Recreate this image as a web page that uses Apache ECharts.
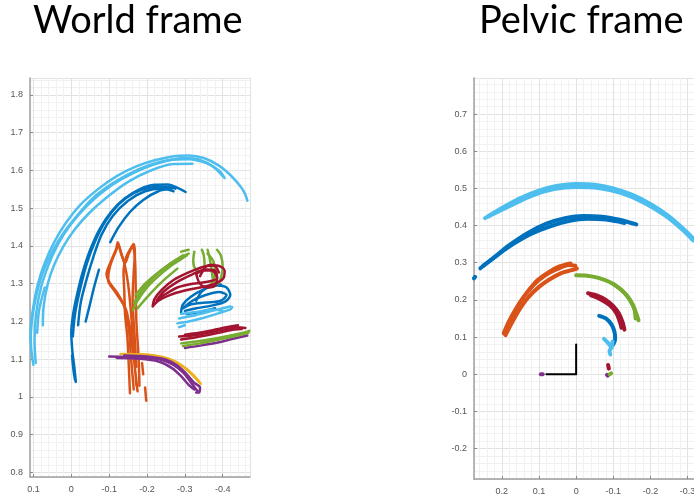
<!DOCTYPE html>
<html>
<head>
<meta charset="utf-8">
<script src="https://cdn.jsdelivr.net/npm/echarts@6/dist/echarts.min.js"></script>
<style>
  html, body { margin: 0; padding: 0; background: #fff; }
  #chart { width: 694px; height: 502px; }
</style>
</head>
<body>
<div id="chart"></div>
<script>
  // matlab default colours
  var cBlue = '#0072BD', cOrange = '#D95319', cYellow = '#EDB120', cPurple = '#7E2F8E',
      cGreen = '#77AC30', cLight = '#4DBEEE', cRed = '#A2142F';

  // ---- World frame (left) : strokes of [x, y]
  var worldLight = [
    [[0.100,1.085],[0.106,1.13],[0.107,1.18],[0.100,1.24],[0.088,1.30],[0.070,1.355],[0.045,1.41],[0.015,1.46],[-0.025,1.51],[-0.07,1.55],[-0.12,1.585],[-0.17,1.61],[-0.22,1.627],[-0.27,1.638],[-0.31,1.64],[-0.35,1.633],[-0.39,1.613],[-0.42,1.588],[-0.445,1.56],[-0.458,1.54],[-0.465,1.52]],
    [[0.094,1.09],[0.097,1.15],[0.093,1.22],[0.08,1.29],[0.06,1.35],[0.035,1.405],[0.003,1.455],[-0.04,1.505],[-0.085,1.545],[-0.135,1.578],[-0.19,1.605],[-0.25,1.625],[-0.30,1.633],[-0.34,1.628],[-0.375,1.61],[-0.40,1.585]],
    [[0.108,1.15],[0.103,1.21],[0.092,1.27],[0.075,1.33],[0.05,1.385],[0.02,1.435],[-0.015,1.48],[-0.055,1.525],[-0.1,1.56],[-0.15,1.59],[-0.2,1.612],[-0.26,1.628],[-0.31,1.63],[-0.355,1.62],[-0.39,1.6],[-0.405,1.58]],
    [[0.075,1.19],[0.073,1.24],[0.062,1.30],[0.045,1.35],[0.02,1.40],[-0.01,1.445],[-0.05,1.49],[-0.095,1.53],[-0.15,1.57],[-0.21,1.60],[-0.27,1.617],[-0.32,1.618]],
    [[0.09,1.17],[0.085,1.23],[0.07,1.29]],
    [[-0.28,1.195],[-0.31,1.2],[-0.35,1.21],[-0.39,1.222],[-0.42,1.232],[-0.425,1.238]],
    [[-0.285,1.208],[-0.32,1.215],[-0.36,1.225],[-0.40,1.235],[-0.42,1.24]],
    [[-0.29,1.22],[-0.33,1.225],[-0.37,1.232],[-0.40,1.228]],
    [[-0.285,1.185],[-0.30,1.19]]
  ];
  var worldBlue = [
    [[-0.012,1.04],[-0.008,1.08],[-0.003,1.12],[0.0,1.17],[-0.005,1.22],[-0.015,1.27],[-0.03,1.33],[-0.05,1.39],[-0.075,1.445],[-0.105,1.49],[-0.14,1.525],[-0.18,1.55],[-0.22,1.562],[-0.255,1.563],[-0.285,1.552],[-0.302,1.543]],
    [[-0.004,1.16],[-0.01,1.22],[-0.022,1.28],[-0.04,1.35],[-0.062,1.41],[-0.09,1.465],[-0.125,1.51],[-0.165,1.54],[-0.21,1.555],[-0.25,1.557],[-0.275,1.552]],
    [[-0.018,1.19],[-0.025,1.25],[-0.04,1.31],[-0.058,1.37],[-0.08,1.43],[-0.11,1.48],[-0.15,1.52],[-0.195,1.545],[-0.24,1.552],[-0.27,1.545]],
    [[-0.103,1.41],[-0.125,1.45],[-0.155,1.49],[-0.19,1.522],[-0.23,1.545],[-0.265,1.552]],
    [[-0.073,1.337],[-0.06,1.29],[-0.048,1.24],[-0.038,1.20]],
    [[-0.002,1.11],[-0.006,1.07],[-0.01,1.045]],
    [[-0.29,1.225],[-0.295,1.245],[-0.315,1.265],[-0.35,1.285],[-0.385,1.295],[-0.41,1.29],[-0.42,1.27],[-0.405,1.252],[-0.37,1.242],[-0.33,1.235],[-0.3,1.228]],
    [[-0.295,1.235],[-0.32,1.255],[-0.355,1.27],[-0.39,1.278],[-0.41,1.27],[-0.395,1.255],[-0.355,1.25],[-0.315,1.245],[-0.295,1.235]],
    [[-0.33,1.255],[-0.345,1.28],[-0.37,1.295],[-0.395,1.298]],
    [[-0.305,1.22],[-0.34,1.225],[-0.38,1.235]]
  ];
  var worldOrange = [
    [[-0.175,1.015],[-0.17,1.06],[-0.163,1.12],[-0.155,1.18],[-0.145,1.23],[-0.125,1.27],[-0.1,1.305],[-0.093,1.325],[-0.105,1.36],[-0.118,1.39],[-0.123,1.41],[-0.13,1.385],[-0.14,1.355],[-0.15,1.30],[-0.158,1.22],[-0.165,1.12],[-0.172,1.03]],
    [[-0.165,1.02],[-0.158,1.10],[-0.152,1.18],[-0.14,1.24],[-0.115,1.28],[-0.097,1.31],[-0.102,1.345],[-0.115,1.38],[-0.125,1.40],[-0.135,1.37],[-0.142,1.355],[-0.152,1.38],[-0.162,1.40],[-0.168,1.37],[-0.17,1.30],[-0.172,1.20],[-0.178,1.10],[-0.18,1.03]],
    [[-0.155,1.01],[-0.152,1.08],[-0.148,1.16],[-0.142,1.22],[-0.14,1.28],[-0.138,1.33],[-0.145,1.37],[-0.158,1.395],[-0.165,1.405],[-0.168,1.38],[-0.165,1.33],[-0.162,1.26],[-0.168,1.15],[-0.172,1.08]],
    [[-0.195,1.025],[-0.198,0.99]],
    [[-0.19,1.06],[-0.187,1.09]]
  ];
  var worldGreen = [
    [[-0.163,1.23],[-0.175,1.255],[-0.2,1.29],[-0.23,1.32],[-0.26,1.345],[-0.29,1.365],[-0.305,1.375]],
    [[-0.166,1.25],[-0.185,1.28],[-0.215,1.315],[-0.25,1.345],[-0.28,1.365],[-0.31,1.38]],
    [[-0.17,1.27],[-0.195,1.30],[-0.23,1.33],[-0.265,1.355],[-0.295,1.375]],
    [[-0.175,1.235],[-0.21,1.275],[-0.245,1.31],[-0.28,1.34]],
    [[-0.29,1.385],[-0.31,1.39]],
    [[-0.325,1.385],[-0.322,1.36],[-0.33,1.335],[-0.345,1.33],[-0.352,1.35],[-0.35,1.375],[-0.345,1.39]],
    [[-0.36,1.39],[-0.365,1.37],[-0.37,1.34],[-0.375,1.31],[-0.385,1.30],[-0.395,1.315],[-0.40,1.345],[-0.395,1.375],[-0.385,1.39]],
    [[-0.36,1.38],[-0.375,1.36],[-0.38,1.33],[-0.37,1.30]],
    [[-0.29,1.142],[-0.33,1.147],[-0.38,1.155],[-0.42,1.163],[-0.455,1.17],[-0.47,1.175]],
    [[-0.295,1.135],[-0.34,1.142],[-0.39,1.152],[-0.44,1.163],[-0.468,1.17]]
  ];
  var worldRed = [
    [[-0.215,1.24],[-0.22,1.26],[-0.24,1.285],[-0.27,1.31],[-0.31,1.33],[-0.35,1.345],[-0.385,1.348],[-0.405,1.335],[-0.402,1.315],[-0.38,1.30],[-0.34,1.29],[-0.30,1.282],[-0.26,1.27],[-0.23,1.255],[-0.215,1.24]],
    [[-0.225,1.255],[-0.245,1.28],[-0.28,1.305],[-0.32,1.325],[-0.355,1.338],[-0.38,1.335],[-0.385,1.315],[-0.36,1.305],[-0.32,1.30],[-0.28,1.29],[-0.245,1.27],[-0.225,1.255]],
    [[-0.33,1.325],[-0.34,1.30],[-0.36,1.29],[-0.38,1.295],[-0.385,1.315],[-0.37,1.335],[-0.345,1.335],[-0.33,1.325]],
    [[-0.34,1.32],[-0.355,1.345],[-0.375,1.35],[-0.39,1.33]],
    [[-0.285,1.16],[-0.32,1.163],[-0.36,1.17],[-0.40,1.178],[-0.44,1.185],[-0.46,1.183]],
    [[-0.29,1.152],[-0.33,1.158],[-0.38,1.168],[-0.42,1.177],[-0.45,1.18]],
    [[-0.30,1.165],[-0.35,1.172],[-0.41,1.185],[-0.44,1.19]]
  ];
  var worldYellow = [
    [[-0.13,1.114],[-0.19,1.113],[-0.24,1.106],[-0.28,1.09],[-0.31,1.068],[-0.33,1.048],[-0.342,1.035]],
    [[-0.20,1.111],[-0.26,1.1],[-0.30,1.078],[-0.325,1.055],[-0.338,1.04]]
  ];
  var worldPurple = [
    [[-0.10,1.107],[-0.15,1.106],[-0.20,1.104],[-0.24,1.098],[-0.27,1.085],[-0.295,1.065],[-0.315,1.04],[-0.33,1.02],[-0.336,1.013]],
    [[-0.12,1.103],[-0.18,1.101],[-0.23,1.094],[-0.265,1.077],[-0.29,1.055],[-0.31,1.032],[-0.325,1.02]],
    [[-0.14,1.11],[-0.2,1.107],[-0.25,1.099],[-0.28,1.083],[-0.305,1.06],[-0.325,1.037],[-0.34,1.025],[-0.338,1.012],[-0.33,1.012]],
    [[-0.30,1.13],[-0.34,1.136],[-0.39,1.145],[-0.43,1.155],[-0.465,1.163]]
  ];

  // ---- Pelvic frame (right)
  var pelvLight = [
    [[0.245,0.42],[0.20,0.447],[0.15,0.474],[0.10,0.494],[0.05,0.507],[0.0,0.512],[-0.05,0.51],[-0.10,0.50],[-0.15,0.483],[-0.20,0.458],[-0.25,0.425],[-0.29,0.39],[-0.32,0.36],[-0.345,0.33]],
    [[0.235,0.425],[0.18,0.452],[0.12,0.48],[0.06,0.498],[0.0,0.504],[-0.06,0.501],[-0.12,0.488],[-0.18,0.463],[-0.24,0.427],[-0.285,0.39],[-0.315,0.36]],
    [[-0.075,0.095],[-0.085,0.085],[-0.094,0.072],[-0.09,0.062],[-0.092,0.053]],
    [[-0.098,0.088],[-0.096,0.072]]
  ];
  var pelvBlue = [
    [[0.258,0.285],[0.22,0.315],[0.18,0.347],[0.13,0.38],[0.08,0.405],[0.03,0.42],[-0.02,0.426],[-0.07,0.424],[-0.12,0.415],[-0.162,0.403]],
    [[0.25,0.292],[0.21,0.322],[0.17,0.35],[0.12,0.378],[0.07,0.398],[0.02,0.412],[-0.03,0.418],[-0.08,0.416],[-0.13,0.407]],
    [[0.275,0.258],[0.272,0.262]],
    [[-0.062,0.157],[-0.08,0.15],[-0.095,0.134],[-0.103,0.115],[-0.105,0.095],[-0.1,0.08]]
  ];
  var pelvOrange = [
    [[0.195,0.11],[0.182,0.14],[0.163,0.175],[0.14,0.21],[0.115,0.24],[0.085,0.265],[0.05,0.283],[0.02,0.294],[0.002,0.292]],
    [[0.19,0.105],[0.172,0.14],[0.152,0.175],[0.128,0.208],[0.10,0.235],[0.07,0.256],[0.04,0.272],[0.012,0.28],[-0.002,0.284]],
    [[0.125,0.228],[0.105,0.252],[0.075,0.274],[0.045,0.29],[0.015,0.298]]
  ];
  var pelvGreen = [
    [[0.0,0.266],[-0.03,0.265],[-0.06,0.259],[-0.09,0.248],[-0.115,0.232],[-0.138,0.21],[-0.153,0.185],[-0.163,0.16],[-0.168,0.145]],
    [[-0.1,0.243],[-0.125,0.224],[-0.145,0.2],[-0.157,0.175],[-0.16,0.15]],
    [[-0.094,0.002],[-0.09,0.0]]
  ];
  var pelvRed = [
    [[-0.032,0.218],[-0.055,0.212],[-0.08,0.2],[-0.1,0.183],[-0.115,0.163],[-0.125,0.14],[-0.13,0.12]],
    [[-0.04,0.212],[-0.065,0.202],[-0.09,0.186],[-0.108,0.165],[-0.118,0.14],[-0.122,0.125]],
    [[-0.086,0.025],[-0.088,0.015]]
  ];
  var pelvPurple = [
    [[-0.085,-0.004],[-0.083,-0.002]],
    [[0.095,0.0],[0.09,0.0]]
  ];
  var pelvAxes = [
    [[0.08,0],[0,0],[0,0.08]]
  ];

  // axis ranges
  var worldX = [-0.472, 0.109], worldY = [0.788, 1.845];
  var pelvX = [-0.425, 0.275], pelvY = [-0.282, 0.797];

  function strokes(list, color, width, idx) {
    return list.map(function (pts) {
      return {
        type: 'line', xAxisIndex: idx, yAxisIndex: idx, data: pts,
        showSymbol: false, smooth: 0.3, silent: true,
        lineStyle: { color: color, width: width, cap: 'round', join: 'round' }
      };
    });
  }

  function xAxisOf(idx, range, split) {
    return {
      type: 'value', gridIndex: idx, inverse: true, min: range[0], max: range[1], splitNumber: split,
      axisLine: { show: true, onZero: false, lineStyle: { color: '#a0a0a0', width: 1.5 } },
      axisTick: { show: true, inside: true, length: 3, lineStyle: { color: '#888' } },
      axisLabel: { color: '#555', fontSize: 9, margin: 8, showMinLabel: false, showMaxLabel: false,
                   fontFamily: 'Liberation Sans' },
      splitLine: { show: true, lineStyle: { color: '#e2e2e2', width: 1 } },
      minorTick: { show: false, splitNumber: 5 },
      minorSplitLine: { show: true, lineStyle: { color: '#f1f1f1', width: 1 } }
    };
  }
  function yAxisOf(idx, range, split) {
    return {
      type: 'value', gridIndex: idx, min: range[0], max: range[1], splitNumber: split,
      axisLine: { show: true, onZero: false, lineStyle: { color: '#a0a0a0', width: 1.5 } },
      axisTick: { show: true, inside: true, length: 3, lineStyle: { color: '#888' } },
      axisLabel: { color: '#555', fontSize: 9, margin: 7, showMinLabel: false, showMaxLabel: false,
                   fontFamily: 'Liberation Sans' },
      splitLine: { show: true, lineStyle: { color: '#e2e2e2', width: 1 } },
      minorTick: { show: false, splitNumber: 5 },
      minorSplitLine: { show: true, lineStyle: { color: '#f1f1f1', width: 1 } }
    };
  }

  var series = []
    .concat(strokes(worldBlue, cBlue, 2.5, 0))
    .concat(strokes(worldOrange, cOrange, 2.5, 0))
    .concat(strokes(worldYellow, cYellow, 2.5, 0))
    .concat(strokes(worldPurple, cPurple, 2.5, 0))
    .concat(strokes(worldGreen, cGreen, 2.5, 0))
    .concat(strokes(worldLight, cLight, 2.5, 0))
    .concat(strokes(worldRed, cRed, 2.5, 0))
    .concat(strokes(pelvBlue, cBlue, 4, 1))
    .concat(strokes(pelvOrange, cOrange, 4, 1))
    .concat(strokes(pelvPurple, cPurple, 4, 1))
    .concat(strokes(pelvGreen, cGreen, 4, 1))
    .concat(strokes(pelvLight, cLight, 4, 1))
    .concat(strokes(pelvRed, cRed, 4, 1))
    .concat(strokes(pelvAxes, '#000', 2, 1));

  var chart = echarts.init(document.getElementById('chart'));
  chart.setOption({
    animation: false,
    title: [
      { text: 'World frame', left: 28, top: -3,
        textStyle: { fontFamily: 'Lato', fontSize: 38, fontWeight: 'normal', color: '#000' } },
      { text: 'Pelvic frame', left: 474, top: -3,
        textStyle: { fontFamily: 'Lato', fontSize: 38, fontWeight: 'normal', color: '#000' } }
    ],
    grid: [
      { left: 30, top: 78, width: 220, height: 399, outerBoundsMode: 'none' },
      { left: 474, top: 78, width: 260, height: 401, outerBoundsMode: 'none' }
    ],
    xAxis: [xAxisOf(0, worldX, 6), xAxisOf(1, pelvX, 7)],
    yAxis: [yAxisOf(0, worldY, 10), yAxisOf(1, pelvY, 10)],
    series: series
  });
</script>
</body>
</html>
